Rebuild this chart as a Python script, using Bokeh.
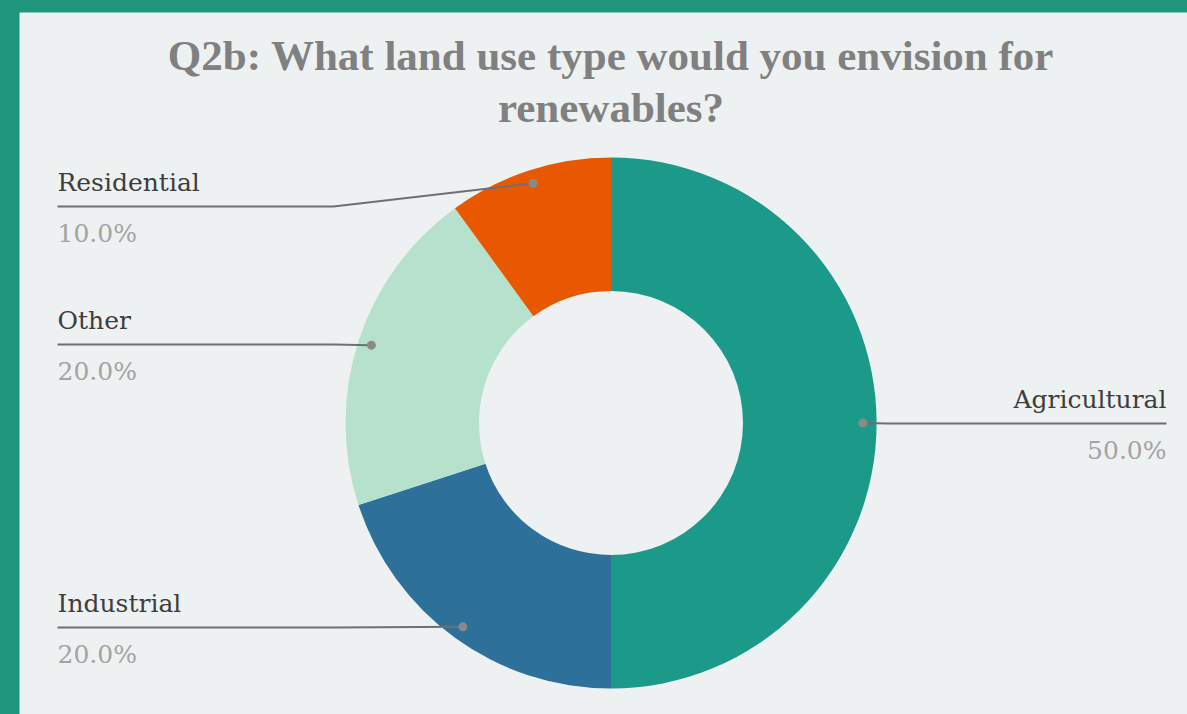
import math
from bokeh.plotting import figure
from bokeh.models import Range1d, GlobalInlineStyleSheet, ColumnDataSource
from bokeh.core.properties import value
from bokeh.embed import file_html
from bokeh.resources import INLINE

# ---- data ----
categories = ["Agricultural", "Industrial", "Other", "Residential"]
shares = [50.0, 20.0, 20.0, 10.0]
colors = ["#1b9a89", "#2d7099", "#b5e1cd", "#e85800"]
title_lines = ["Q2b: What land use type would you envision for", "renewables?"]

# ---- layout (page pixel coordinates) ----
PAGE_W, PAGE_H = 1187, 714
FRAME_L, FRAME_T = 19, 12
BORDER = "#1f967b"
PANEL = "#edf1f1"
CX, CY = 610.5, 422.5          # donut centre (page px)
R_OUT, R_IN = 265.5, 132.0
R_DOT = 252.0
LEFT_EDGE, RIGHT_EDGE = 57, 1166
ELBOW_LEFT, ELBOW_RIGHT = 333, 888
line_y_page = [423, 627, 344, 206]   # label line heights per category

def Y(page_y):
    return PAGE_H - page_y

p = figure(width=PAGE_W, height=PAGE_H, output_backend="svg",
           toolbar_location=None,
           x_range=Range1d(FRAME_L, PAGE_W), y_range=Range1d(0, PAGE_H - FRAME_T),
           min_border_left=FRAME_L, min_border_top=FRAME_T,
           min_border_right=0, min_border_bottom=0)
p.background_fill_color = PANEL
p.border_fill_color = BORDER
p.outline_line_color = None
p.xaxis.visible = False
p.yaxis.visible = False
p.xgrid.visible = False
p.ygrid.visible = False
p.stylesheets = [GlobalInlineStyleSheet(
    css=f"html,body{{margin:0;padding:0;background:{BORDER};overflow:hidden;}}")]

total = sum(shares)
starts, ends, mids = [], [], []
cum = 0.0
for s in shares:
    a0 = math.pi / 2 - 2 * math.pi * cum / total
    cum += s
    a1 = math.pi / 2 - 2 * math.pi * cum / total
    starts.append(a0)
    ends.append(a1)
    mids.append((a0 + a1) / 2)

src = ColumnDataSource(dict(cat=categories, start=starts, end=ends, color=colors))
p.annular_wedge(x=CX, y=Y(CY), inner_radius=R_IN, outer_radius=R_OUT,
                start_angle="start", end_angle="end", direction="clock",
                fill_color="color", line_color=None, source=src)

serif = value("DejaVu Serif")
for cat, s, m, ly in zip(categories, shares, mids, line_y_page):
    dx = CX + R_DOT * math.cos(m)
    dy = Y(CY) + R_DOT * math.sin(m)
    right = math.cos(m) > 0
    elbow = ELBOW_RIGHT if right else ELBOW_LEFT
    edge = RIGHT_EDGE if right else LEFT_EDGE
    p.line([dx, elbow, edge], [dy, Y(ly), Y(ly)], line_color="#6f6f6f", line_width=2)
    p.scatter([dx], [dy], size=9, fill_color="#8a8a8a", line_color=None)
    align = "right" if right else "left"
    p.text([edge], [Y(ly) + 24], text=[cat], text_align=align, text_baseline="middle",
           text_font=serif, text_font_size="25px", text_color="#3d3d3d")
    p.text([edge], [Y(ly) - 27], text=[f"{s:.1f}%"], text_align=align, text_baseline="middle",
           text_font=serif, text_font_size="25px", text_color="#a3a3a3")

title_font = value("Liberation Serif")
for txt, cy in zip(title_lines, [55, 107]):
    p.text([CX], [Y(cy)], text=[txt], text_align="center", text_baseline="middle",
           text_font=title_font, text_font_style="bold", text_font_size="43px",
           text_color="#808080")

open("out.html", "w").write(file_html(p, INLINE))
